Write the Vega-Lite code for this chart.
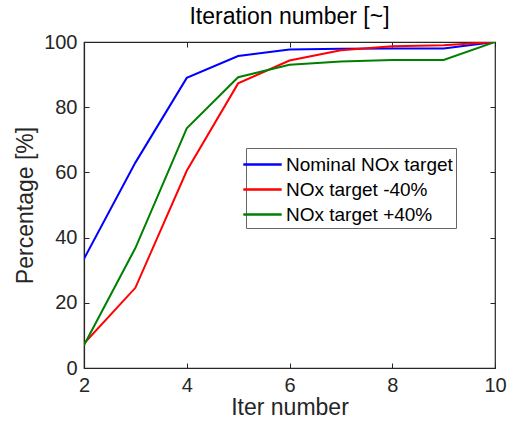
{
  "$schema": "https://vega.github.io/schema/vega-lite/v6.json",
  "autosize": {"type": "none"},
  "width": 411,
  "height": 326,
  "padding": {"left": 84, "top": 42, "right": 12, "bottom": 57},
  "background": "white",
  "config": {
    "font": "Liberation Sans",
    "view": {"stroke": "#262626", "strokeWidth": 1.2},
    "axis": {"grid": false, "labelFlush": false, "domainColor": "#262626", "tickColor": "#262626", "labelColor": "#262626", "titleColor": "#262626", "labelFontSize": 20, "titleFontSize": 23, "titleFontWeight": "normal", "tickSize": -5, "labelPadding": 12, "domainWidth": 1.2}
  },
  "title": {"text": "Iteration number [~]", "fontSize": 23, "fontWeight": "normal", "color": "black", "offset": 3},
  "data": {"values": [
    {"iter": 2, "pct": 33.5, "series": "Nominal NOx target"},
    {"iter": 3, "pct": 63, "series": "Nominal NOx target"},
    {"iter": 4, "pct": 89, "series": "Nominal NOx target"},
    {"iter": 5, "pct": 95.7, "series": "Nominal NOx target"},
    {"iter": 6, "pct": 97.7, "series": "Nominal NOx target"},
    {"iter": 7, "pct": 97.9, "series": "Nominal NOx target"},
    {"iter": 8, "pct": 98, "series": "Nominal NOx target"},
    {"iter": 9, "pct": 98, "series": "Nominal NOx target"},
    {"iter": 10, "pct": 100, "series": "Nominal NOx target"},
    {"iter": 2, "pct": 7.5, "series": "NOx target -40%"},
    {"iter": 3, "pct": 24.6, "series": "NOx target -40%"},
    {"iter": 4, "pct": 60.5, "series": "NOx target -40%"},
    {"iter": 5, "pct": 87.3, "series": "NOx target -40%"},
    {"iter": 6, "pct": 94.3, "series": "NOx target -40%"},
    {"iter": 7, "pct": 97.5, "series": "NOx target -40%"},
    {"iter": 8, "pct": 98.7, "series": "NOx target -40%"},
    {"iter": 9, "pct": 99, "series": "NOx target -40%"},
    {"iter": 10, "pct": 100, "series": "NOx target -40%"},
    {"iter": 2, "pct": 7, "series": "NOx target +40%"},
    {"iter": 3, "pct": 36.8, "series": "NOx target +40%"},
    {"iter": 4, "pct": 73.5, "series": "NOx target +40%"},
    {"iter": 5, "pct": 89.2, "series": "NOx target +40%"},
    {"iter": 6, "pct": 93, "series": "NOx target +40%"},
    {"iter": 7, "pct": 94, "series": "NOx target +40%"},
    {"iter": 8, "pct": 94.5, "series": "NOx target +40%"},
    {"iter": 9, "pct": 94.5, "series": "NOx target +40%"},
    {"iter": 10, "pct": 100, "series": "NOx target +40%"}
  ]},
  "layer": [
    {
      "mark": {"type": "line", "strokeWidth": 2, "clip": true},
      "encoding": {
        "x": {"field": "iter", "type": "quantitative", "scale": {"domain": [2, 10], "nice": false}, "axis": {"values": [2, 4, 6, 8, 10], "title": "Iter number", "titlePadding": 1}},
        "y": {"field": "pct", "type": "quantitative", "scale": {"domain": [0, 100], "nice": false}, "axis": {"values": [0, 20, 40, 60, 80, 100], "title": "Percentage [%]", "titlePadding": 6}},
        "color": {"field": "series", "type": "nominal", "scale": {"domain": ["Nominal NOx target", "NOx target -40%", "NOx target +40%"], "range": ["#0000ff", "#ff0000", "#008000"]},
          "legend": {"title": null, "orient": "none", "legendX": 162, "legendY": 106, "symbolType": "M-1.6,0H1.6", "symbolSize": 576, "symbolStrokeWidth": 2.5, "labelFontSize": 19, "labelLimit": 400, "labelColor": "black", "strokeColor": "#666666", "fillColor": "white", "padding": 3, "rowPadding": 1, "labelOffset": 10}}
      }
    },
    {
      "mark": {"type": "point", "opacity": 0},
      "encoding": {
        "x": {"field": "iter", "type": "quantitative", "scale": {"domain": [2, 10], "nice": false}, "axis": {"orient": "top", "values": [2, 4, 6, 8, 10], "labels": false, "title": null, "domain": false}},
        "y": {"field": "pct", "type": "quantitative", "scale": {"domain": [0, 100], "nice": false}, "axis": {"orient": "right", "values": [0, 20, 40, 60, 80, 100], "labels": false, "title": null, "domain": false}}
      }
    }
  ],
  "resolve": {"axis": {"x": "independent", "y": "independent"}}
}
